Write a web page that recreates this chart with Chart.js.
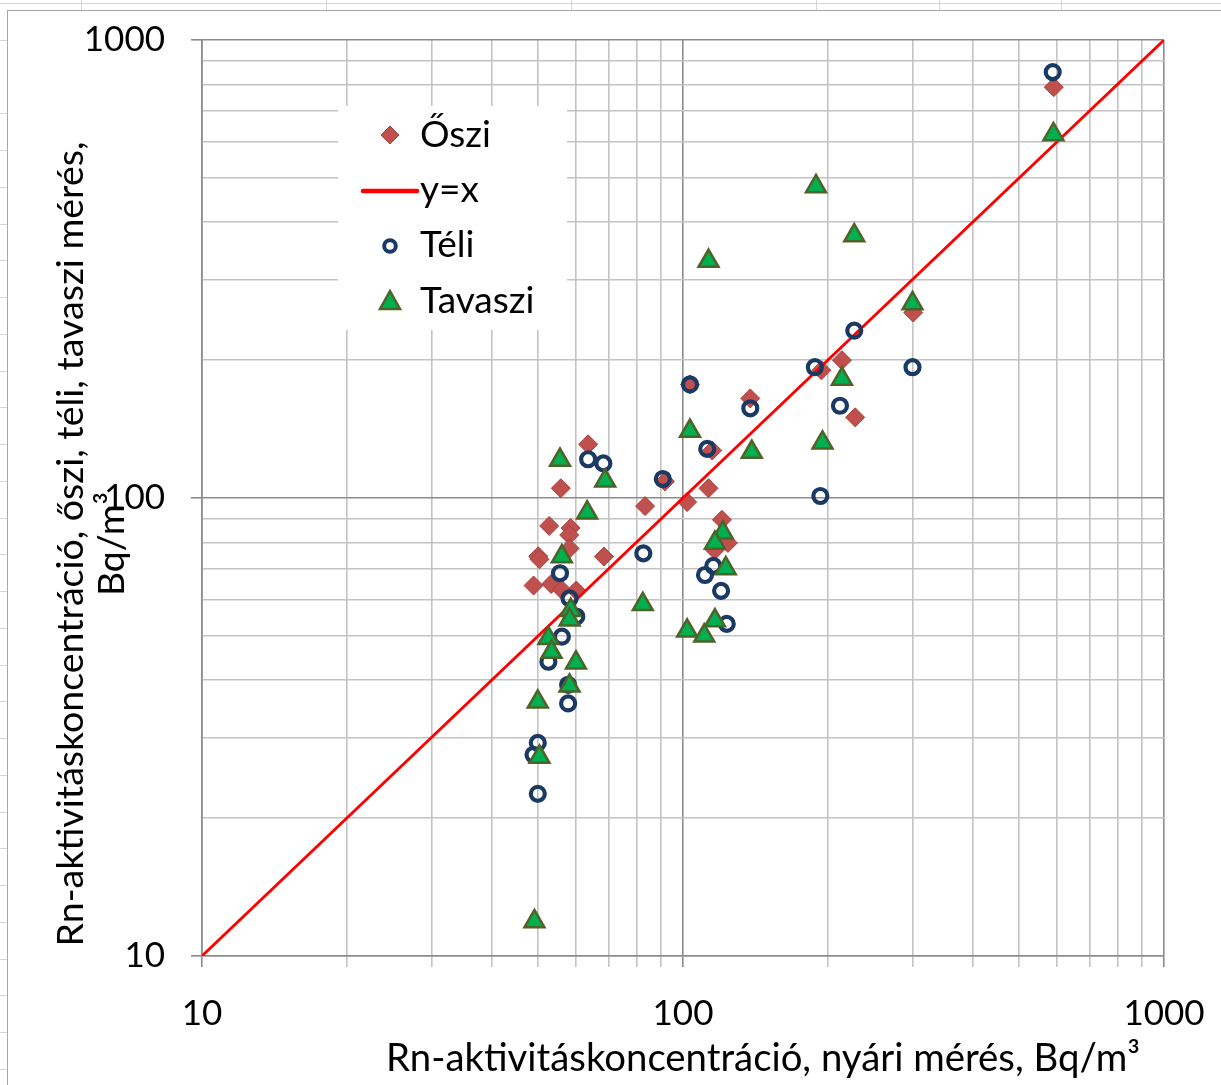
<!DOCTYPE html>
<html>
<head>
<meta charset="utf-8">
<script src="https://cdn.jsdelivr.net/npm/chart.js@4.4.1/dist/chart.umd.min.js"></script>
<style>
  html, body { margin: 0; padding: 0; }
  body {
    width: 1221px; height: 1085px; position: relative; overflow: hidden;
    background-color: #fff;
    background-image:
      repeating-linear-gradient(to right, transparent 0 81px, #d6d6d6 81px 82px, transparent 82px 122.5px),
      repeating-linear-gradient(to bottom, transparent 0 3px, #d6d6d6 3px 4px, transparent 4px 36.75px);
  }
  #frame {
    position: absolute; left: 7px; top: 10px; right: 0; bottom: 0;
    background: #fff; border-left: 1.5px solid #a6a6a6; border-top: 1.5px solid #a6a6a6;
  }
  #chart { position: absolute; left: 0; top: 0; }
</style>
</head>
<body>
<div id="frame"></div>
<canvas id="chart" width="1221" height="1085"></canvas>
<script>
// nyári mérés (x) vs. őszi / téli / tavaszi mérés (y), Bq/m3
const osziX = [590, 301, 214, 194, 228, 138, 103.4, 115, 113, 91.7, 102, 83.4, 120.5, 124, 116.5, 68.5, 63.5, 55.7, 52.7, 58.4, 58, 58.1, 50, 50.3, 48.9, 53.2, 56, 60];
const osziY = [789, 254, 200, 190, 150, 165, 177, 127, 105, 108.7, 98, 96, 89.6, 79.8, 77, 74.5, 131, 105, 86.9, 86, 83, 77.6, 74.6, 73.5, 64.4, 64.9, 63, 62.8];

const teliX = [587, 227, 188, 300, 212, 138, 103.4, 112.3, 90.8, 193, 82.7, 111.1, 115.6, 120, 123.3, 63.5, 68.3, 55.5, 58.1, 60, 56, 52.5, 57.7, 57.7, 49.9, 48.9, 49.9];
const teliY = [851, 232, 193, 193, 159, 157, 177, 128, 110, 101, 75.7, 67.9, 71.1, 62.7, 53.1, 121.5, 119, 68.5, 60.4, 55.1, 49.8, 43.9, 39.1, 35.6, 29.2, 27.5, 22.6];

const tavX = [589, 189, 227, 113, 300, 214, 103.4, 195, 139, 55.5, 68.9, 63.2, 56, 121, 116.5, 122.7, 82.5, 58.4, 58.1, 116.5, 102, 110.7, 52.5, 53.3, 59.9, 58.1, 49.9, 50.3, 49.1];
const tavY = [622, 479, 374, 329, 266, 182, 140, 132, 126, 121, 109, 92.9, 74.5, 84, 79.8, 70.2, 58.6, 56.9, 54.2, 54.0, 51.3, 50.0, 49.4, 46.1, 43.7, 38.9, 35.9, 27.2, 11.9];

const lineXY = [10, 1000];

const gridTicks = [10, 20, 30, 40, 50, 60, 70, 80, 90, 100, 200, 300, 400, 500, 600, 700, 800, 900, 1000];
const tickLabels = [10, 100, 1000];

const seriesNames = ["Őszi", "y=x", "Téli", "Tavaszi"];
const xTitle = "Rn-aktivitáskoncentráció, nyári mérés, Bq/m³";
const yTitle = ["Rn-aktivitáskoncentráció, őszi, téli, tavaszi mérés,", "Bq/m³"];

const FONT = "Lato, 'Noto Sans', sans-serif";
const MINOR = "#c3c3c3";
const MAJOR = "#8c8c8c";

function pts(xs, ys) {
  return xs.map((x, i) => ({ x: x, y: ys[i] }));
}

function setTicks(scale) {
  scale.ticks = gridTicks.map((v) => ({ value: v, major: tickLabels.includes(v) }));
}

function fitSize(ctx, text, width) {
  ctx.font = "40px " + FONT;
  return 40 * width / ctx.measureText(text).width;
}

function drawMarker(ctx, style, x, y) {
  ctx.save();
  ctx.beginPath();
  if (style === "diamond") {
    ctx.moveTo(x, y - 9); ctx.lineTo(x + 9, y); ctx.lineTo(x, y + 9); ctx.lineTo(x - 9, y); ctx.closePath();
    ctx.fillStyle = "#C0504D"; ctx.strokeStyle = "#A5403D"; ctx.lineWidth = 1;
    ctx.fill(); ctx.stroke();
  } else if (style === "circle") {
    ctx.arc(x, y, 5.8, 0, Math.PI * 2);
    ctx.strokeStyle = "#1B3A63"; ctx.lineWidth = 4;
    ctx.stroke();
  } else if (style === "triangle") {
    ctx.moveTo(x, y - 11); ctx.lineTo(x + 10, y + 7); ctx.lineTo(x - 10, y + 7); ctx.closePath();
    ctx.fillStyle = "#00B050"; ctx.strokeStyle = "#4F6228"; ctx.lineWidth = 2.5;
    ctx.fill(); ctx.stroke();
  } else {
    ctx.moveTo(x - 27, y); ctx.lineTo(x + 27, y);
    ctx.strokeStyle = "#FF0000"; ctx.lineWidth = 4.5; ctx.lineCap = "round";
    ctx.stroke();
  }
  ctx.restore();
}

const decorPlugin = {
  id: "decor",
  afterDraw(chart) {
    const ctx = chart.ctx;
    ctx.save();
    // legend box over the grid
    ctx.fillStyle = "#fff";
    ctx.fillRect(338, 106, 229, 224);
    const styles = ["diamond", "line", "circle", "triangle"];
    const markY = [135, 191, 246, 302];
    const textY = [147, 202, 257, 313];
    ctx.font = "37px " + FONT;
    ctx.textAlign = "left";
    ctx.textBaseline = "alphabetic";
    seriesNames.forEach((name, i) => {
      drawMarker(ctx, styles[i], 390, markY[i]);
      ctx.fillStyle = "#000";
      ctx.fillText(name, 420, textY[i]);
    });

    // axis titles
    ctx.fillStyle = "#000";
    ctx.textAlign = "center";
    ctx.font = fitSize(ctx, xTitle, 754).toFixed(2) + "px " + FONT;
    ctx.fillText(xTitle, 763, 1071);

    const s = fitSize(ctx, yTitle[0], 805);
    ctx.font = s.toFixed(2) + "px " + FONT;
    [83, 124].forEach((bx, i) => {
      ctx.save();
      ctx.translate(bx, 544);
      ctx.rotate(-Math.PI / 2);
      ctx.fillText(yTitle[i], 0, 0);
      ctx.restore();
    });
    ctx.restore();
  }
};

const ctx = document.getElementById("chart").getContext("2d");
new Chart(ctx, {
  type: "scatter",
  data: {
    datasets: [
      {
        label: seriesNames[0],
        data: pts(osziX, osziY),
        pointStyle: "rectRot",
        pointRadius: 9.5,
        backgroundColor: "#C0504D",
        borderColor: "#A5403D",
        borderWidth: 1,
        order: 3,
      },
      {
        label: seriesNames[1],
        data: pts(lineXY, lineXY),
        showLine: true,
        pointRadius: 0,
        borderColor: "#FF0000",
        borderWidth: 2.8,
        order: 2,
      },
      {
        label: seriesNames[2],
        data: pts(teliX, teliY),
        pointStyle: "circle",
        pointRadius: 7,
        backgroundColor: "rgba(0,0,0,0)",
        borderColor: "#1B3A63",
        borderWidth: 4.2,
        order: 1,
      },
      {
        label: seriesNames[3],
        data: pts(tavX, tavY),
        pointStyle: "triangle",
        pointRadius: 11.5,
        backgroundColor: "#00B050",
        borderColor: "#4F6228",
        borderWidth: 2.5,
        order: 0,
      },
    ],
  },
  options: {
    responsive: false,
    animation: false,
    layout: { autoPadding: false, padding: { left: 0, top: 40, right: 57, bottom: 0 } },
    plugins: { legend: { display: false }, tooltip: { enabled: false } },
    elements: { point: { hoverRadius: 0 } },
    scales: {
      x: {
        type: "logarithmic",
        min: 10,
        max: 1000,
        afterBuildTicks: setTicks,
        afterFit: (scale) => {
          scale.height = 129;
          scale.paddingLeft = 0;
          scale.paddingRight = 0;
        },
        ticks: {
          autoSkip: false,
          maxRotation: 0,
          padding: 26,
          color: "#000",
          font: { family: FONT, size: 35 },
          callback: (v) => (tickLabels.includes(v) ? String(v) : ""),
        },
        grid: {
          color: (c) => (c.tick && c.tick.major ? MAJOR : MINOR),
          tickColor: (c) => (c.tick && c.tick.major ? MAJOR : MINOR),
          lineWidth: 1.6,
          tickLength: 11,
        },
        border: { color: MAJOR, width: 1.6 },
      },
      y: {
        type: "logarithmic",
        min: 10,
        max: 1000,
        afterBuildTicks: setTicks,
        afterFit: (scale) => {
          scale.width = 202;
          scale.paddingTop = 0;
          scale.paddingBottom = 0;
        },
        ticks: {
          autoSkip: false,
          padding: 26,
          color: "#000",
          font: { family: FONT, size: 35 },
          callback: (v) => (tickLabels.includes(v) ? String(v) : ""),
        },
        grid: {
          color: (c) => (c.tick && c.tick.major ? MAJOR : MINOR),
          tickColor: (c) => (c.tick && c.tick.major ? MAJOR : "rgba(0,0,0,0)"),
          lineWidth: 1.6,
          tickLength: 11,
        },
        border: { color: MAJOR, width: 1.6 },
      },
    },
  },
  plugins: [decorPlugin],
});
</script>
</body>
</html>
